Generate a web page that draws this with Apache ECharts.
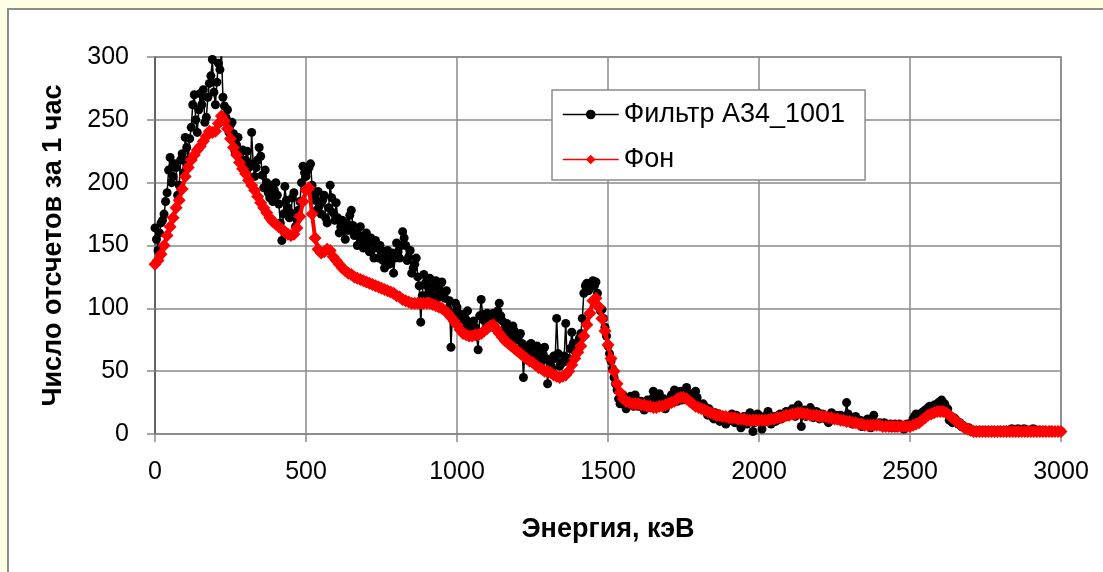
<!DOCTYPE html>
<html>
<head>
<meta charset="utf-8">
<title>Спектр</title>
<script src="https://cdn.jsdelivr.net/npm/echarts@6/dist/echarts.min.js"></script>
<style>
  html, body { margin: 0; padding: 0; background: #fffde3; }
  #chart { width: 1103px; height: 572px; }
</style>
</head>
<body>
<div id="chart"></div>
<script>
// Channel widths, keV (both spectra start at 0 keV)
const FILTER_STEP = 5;
const BACKGROUND_STEP = 10;

// Counts per hour for the filter sample, one value per 5 keV channel (0 … 3000 keV)
const filterCounts = [
  164,155,146,160,168,170,175,185,192,210,220,200,205,215,212,190,198,218,223,208,
  236,228,218,235,244,262,270,250,240,258,271,262,274,248,252,268,279,285,298,272,
  262,280,295,290,303,268,261,252,258,240,246,248,239,225,230,236,222,218,226,214,
  218,225,212,204,240,215,205,212,218,228,221,206,196,210,200,192,188,198,185,194,
  200,190,183,168,154,175,197,186,180,172,176,188,192,165,170,178,185,200,213,208,
  205,210,212,215,198,190,186,178,193,182,175,186,190,172,168,180,198,188,176,170,
  184,172,160,165,170,162,155,168,162,174,178,166,158,160,150,158,165,154,148,156,
  160,150,145,156,152,140,154,148,140,150,146,138,132,142,146,135,138,144,128,140,
  152,145,140,150,161,156,150,138,141,146,128,132,135,140,125,118,89,110,127,120,
  118,112,124,116,110,118,122,108,115,120,121,112,108,114,100,106,69,96,95,104,
  101,96,92,88,95,86,91,98,86,82,80,90,85,78,67,94,107,95,90,84,
  96,92,88,90,96,84,92,98,104,94,90,82,86,88,85,80,78,86,82,76,
  75,78,80,72,45,68,70,62,64,72,69,60,62,70,66,56,58,64,69,60,
  40,58,55,52,62,60,92,64,54,56,57,62,88,58,60,68,81,72,66,70,
  72,76,80,92,112,118,120,114,116,120,122,118,121,112,101,98,99,92,85,78,
  70,64,58,52,45,40,35,28,24,27,31,25,20,23,28,30,26,22,31,27,
  22,24,26,21,19,23,27,25,21,28,34,30,24,26,32,22,25,28,20,23,
  27,24,31,28,35,30,26,29,34,27,31,33,37,28,30,32,26,31,34,29,
  24,22,20,24,22,18,15,20,18,14,12,17,16,13,10,15,14,11,8,12,
  13,11,16,14,9,15,12,10,5,12,14,9,8,13,17,11,2,9,12,16,
  15,10,4,9,12,15,18,13,8,12,14,10,11,15,16,12,13,16,18,14,
  15,17,20,16,14,19,23,18,6,15,19,14,17,19,21,16,13,15,18,17,
  12,15,16,13,14,11,9,14,17,12,13,15,11,13,15,12,10,14,25,16,
  13,10,8,12,14,9,10,11,6,8,9,11,12,8,5,10,15,9,7,8,
  9,7,6,9,8,6,7,8,5,7,8,5,6,8,7,6,4,7,8,6,
  7,9,12,14,16,12,13,15,17,18,19,17,21,22,20,21,23,22,24,25,
  26,27,22,24,18,20,11,14,9,13,12,10,8,9,6,7,5,4,4,5,
  3,2,2,3,2,2,3,2,2,3,2,2,3,2,2,3,2,2,2,3,
  3,2,2,3,2,2,3,4,4,3,3,4,4,3,3,4,4,3,3,2,
  3,4,4,3,2,3,3,2,2,3,2,2,2,3,2,2,2,2,2,2,
  2
];

// Counts per hour for the background measurement, one value per 10 keV channel
const backgroundCounts = [
  135, 138, 143, 150, 158, 165, 172, 180, 186, 195,
  205, 212, 218, 222, 226, 229, 233, 237, 241, 240,
  241, 247, 253, 249, 243, 235, 228, 222, 216, 211,
  207, 202, 198, 194, 189, 184, 180, 176, 172, 169,
  167, 165, 163, 161, 159, 158, 159, 164, 173, 185,
  194, 196, 175, 156, 147, 144, 145, 147, 146, 141,
  138, 135, 132, 130, 128, 127, 125, 124, 123, 122,
  121, 120, 119, 118, 117, 116, 115, 114, 113, 112,
  110, 109, 107, 106, 105, 104, 104, 104, 104, 104,
  104, 104, 103, 102, 101, 100, 98, 96, 93, 90,
  87, 83, 80, 79, 78, 78, 79, 79, 80, 82,
  84, 86, 87, 84, 80, 77, 74, 72, 70, 68,
  66, 64, 62, 60, 58, 57, 55, 53, 52, 50,
  50, 49, 47, 46, 45, 46, 47, 50, 55, 60,
  65, 70, 78, 87, 96, 106, 108, 101, 92, 82,
  71, 60, 50, 40, 33, 28, 26, 25, 24, 24,
  24, 23, 23, 22, 22, 21, 21, 22, 22, 23,
  24, 25, 26, 28, 29, 29, 28, 26, 24, 22,
  21, 20, 19, 18, 17, 16, 15, 15, 14, 14,
  13, 13, 13, 12, 12, 12, 11, 11, 11, 11,
  11, 11, 11, 11, 12, 12, 13, 13, 14, 15,
  15, 16, 16, 17, 17, 16, 16, 15, 15, 15,
  14, 14, 14, 13, 13, 12, 12, 11, 11, 10,
  10, 9, 9, 8, 8, 7, 7, 7, 7, 7,
  7, 6, 6, 6, 6, 6, 6, 6, 6, 6,
  6, 7, 8, 9, 11, 13, 15, 16, 17, 18,
  18, 18, 17, 15, 13, 11, 9, 7, 5, 4,
  3, 2, 2, 2, 2, 2, 2, 2, 2, 2,
  2, 2, 2, 2, 2, 2, 2, 2, 2, 2,
  2, 2, 2, 2, 2, 2, 2, 2, 2, 2,
  2
];

const seriesNames = ['Фильтр А34_1001', 'Фон'];
const xAxisTitle = 'Энергия, кэВ';
const yAxisTitle = 'Число отсчетов за 1 час';

// [energy, counts] pairs for a value axis
const toPairs = (arr, step) => arr.map((v, i) => [i * step, v]);

const FONT = '"Liberation Sans", Arial, sans-serif';
const GRID_COLOR = '#8a8a8a';

const chart = echarts.init(document.getElementById('chart'), null, { renderer: 'canvas' });

chart.setOption({
  animation: false,
  backgroundColor: '#fffde3',
  graphic: [
    {
      type: 'rect',
      shape: { x: 8, y: 9, width: 1200, height: 700 },
      style: { fill: '#ffffff', stroke: '#8c8c8c', lineWidth: 2 },
      z: -10
    }
  ],
  textStyle: { fontFamily: FONT },
  grid: {
    left: 155, right: 42, top: 57, bottom: 138,
    show: true,
    borderColor: GRID_COLOR,
    borderWidth: 1.5,
    backgroundColor: 'transparent'
  },
  legend: {
    orient: 'vertical',
    left: 552, top: 90,
    backgroundColor: '#ffffff',
    borderColor: '#8c8c8c',
    borderWidth: 1.5,
    padding: [11, 20, 7, 10],
    itemGap: 18,
    itemWidth: 56,
    itemHeight: 12,
    lineStyle: { width: 1.5 },
    textStyle: { fontFamily: FONT, fontSize: 27, color: '#000' },
    data: seriesNames
  },
  xAxis: {
    type: 'value',
    min: 0, max: 3000, interval: 500,
    name: xAxisTitle,
    nameLocation: 'middle',
    nameGap: 82,
    nameTextStyle: { fontFamily: FONT, fontSize: 27, fontWeight: 'bold', color: '#000' },
    axisLine: { show: true, lineStyle: { color: GRID_COLOR, width: 1.5 } },
    axisTick: { show: true, length: 8, inside: false, lineStyle: { color: GRID_COLOR, width: 1.5 } },
    axisLabel: { margin: 26, fontFamily: FONT, fontSize: 25, color: '#000', formatter: v => String(v) },
    splitLine: { show: true, lineStyle: { color: GRID_COLOR, width: 1.5 } }
  },
  yAxis: {
    type: 'value',
    min: 0, max: 300, interval: 50,
    name: yAxisTitle,
    nameLocation: 'middle',
    nameGap: 88,
    nameRotate: 90,
    nameTextStyle: { fontFamily: FONT, fontSize: 27, fontWeight: 'bold', color: '#000' },
    axisLine: { show: true, lineStyle: { color: '#555', width: 1.5 } },
    axisTick: { show: true, length: 8, inside: false, lineStyle: { color: GRID_COLOR, width: 1.5 } },
    axisLabel: { margin: 26, fontFamily: FONT, fontSize: 25, color: '#000' },
    splitLine: { show: true, lineStyle: { color: GRID_COLOR, width: 1.5 } }
  },
  series: [
    {
      name: seriesNames[0],
      type: 'line',
      data: toPairs(filterCounts, FILTER_STEP),
      symbol: 'circle',
      symbolSize: 9,
      showAllSymbol: true,
      lineStyle: { color: '#000', width: 1.5 },
      itemStyle: { color: '#000' },
      z: 2
    },
    {
      name: seriesNames[1],
      type: 'line',
      data: toPairs(backgroundCounts, BACKGROUND_STEP),
      symbol: 'diamond',
      symbolSize: 13,
      showAllSymbol: true,
      lineStyle: { color: '#ff0000', width: 4 },
      itemStyle: { color: '#ff0000' },
      z: 3
    }
  ]
});
</script>
</body>
</html>
